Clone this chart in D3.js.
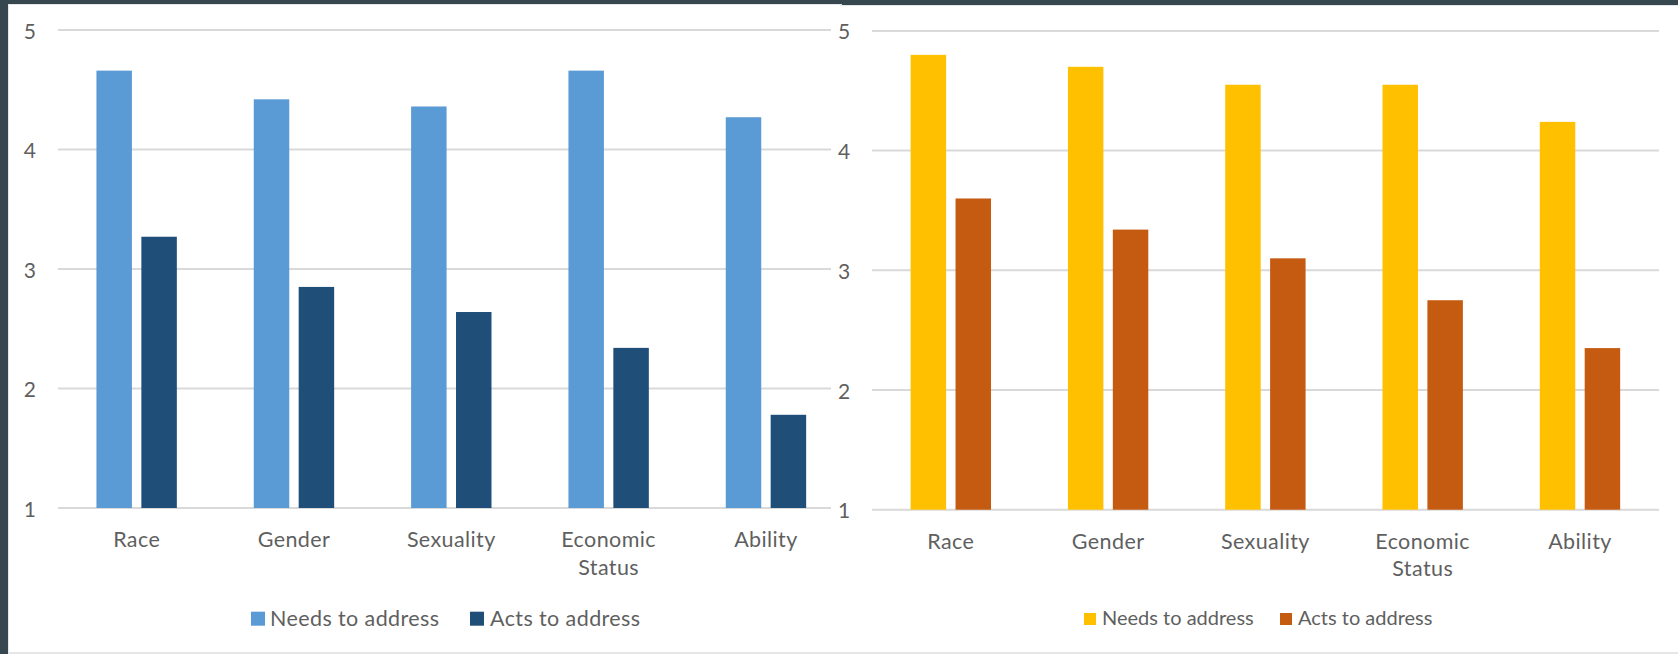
<!DOCTYPE html>
<html>
<head>
<meta charset="utf-8">
<script src="https://cdnjs.cloudflare.com/ajax/libs/d3/7.8.5/d3.min.js"></script>
<style>
  html, body { margin: 0; padding: 0; background: #37474f; }
  svg { display: block; }
  text { font-family: Lato, "Open Sans", sans-serif; fill: #5f5f5f; }
</style>
</head>
<body>
<svg id="chart" width="1678" height="654"></svg>
<script>
// ---- data ----
const categories = ["Race", "Gender", "Sexuality", "Economic Status", "Ability"];
const seriesNames = ["Needs to address", "Acts to address"];
const leftNeeds = [4.66, 4.42, 4.36, 4.66, 4.27];
const leftActs  = [3.27, 2.85, 2.64, 2.34, 1.78];
const rightNeeds = [4.80, 4.70, 4.55, 4.55, 4.24];
const rightActs  = [3.60, 3.34, 3.10, 2.75, 2.35];
const yTicks = [1, 2, 3, 4, 5];
const leftColors = ["#5b9bd5", "#1f4e79"];
const rightColors = ["#ffc000", "#c55a11"];

const svg = d3.select("#chart");

// background panels
svg.append("rect").attr("x", 0).attr("y", 0).attr("width", 1678).attr("height", 654).attr("fill", "#37474f");
svg.append("rect").attr("x", 8).attr("y", 4).attr("width", 834).attr("height", 650).attr("fill", "#e4e6e7");
svg.append("rect").attr("x", 9).attr("y", 5).attr("width", 833).attr("height", 647).attr("fill", "#ffffff");
svg.append("rect").attr("x", 840).attr("y", 5).attr("width", 838).attr("height", 649).attr("fill", "#e4e6e7");
svg.append("rect").attr("x", 840).attr("y", 6).attr("width", 838).attr("height", 646).attr("fill", "#ffffff");

svg.append("defs").append("clipPath").attr("id", "clipLeft")
  .append("rect").attr("x", 0).attr("y", 0).attr("width", 831).attr("height", 654);

function drawChart(cfg) {
  const g = svg.append("g");
  if (cfg.clip) g.attr("clip-path", "url(#" + cfg.clip + ")");

  const x0 = d3.scaleBand().domain(categories).range([cfg.x0, cfg.x1])
    .paddingInner(0.489).paddingOuter(0.245);
  const x1 = d3.scaleBand().domain(seriesNames).range([0, x0.bandwidth()])
    .paddingInner(0.21).paddingOuter(0);
  const y = d3.scaleLinear().domain([1, 5]).range([cfg.yBottom, cfg.yTop]);

  // gridlines
  g.append("g").selectAll("line").data(yTicks).join("line")
    .attr("x1", cfg.x0).attr("x2", cfg.gridEnd)
    .attr("y1", d => y(d)).attr("y2", d => y(d))
    .attr("stroke", "#d9d9d9").attr("stroke-width", 2);

  // y tick labels
  g.append("g").selectAll("text").data(yTicks).join("text")
    .attr("x", cfg.x0 - 22).attr("y", d => y(d))
    .attr("text-anchor", "end").attr("dominant-baseline", "central")
    .attr("font-size", 21).text(d => d);

  // bars
  const data = categories.map((c, i) => ({ cat: c, vals: [cfg.needs[i], cfg.acts[i]] }));
  const groups = g.append("g").selectAll("g").data(data).join("g")
    .attr("transform", d => `translate(${x0(d.cat)},0)`);
  groups.selectAll("rect").data(d => d.vals.map((v, k) => ({ s: seriesNames[k], v, k })))
    .join("rect")
    .attr("x", d => x1(d.s)).attr("width", x1.bandwidth())
    .attr("y", d => y(d.v)).attr("height", d => y(1) - y(d.v))
    .attr("fill", d => cfg.colors[d.k]);

  // category labels
  const lab = g.append("g").selectAll("text").data(categories).join("text")
    .attr("x", d => x0(d) + x0.bandwidth() / 2)
    .attr("y", cfg.yBottom + 39)
    .attr("text-anchor", "middle").attr("font-size", 21.5)
    .attr("letter-spacing", 0.4);
  lab.each(function(d) {
    const words = d.split(" ");
    const t = d3.select(this);
    words.forEach((w, i) => {
      t.append("tspan").attr("x", x0(d) + x0.bandwidth() / 2)
        .attr("dy", i === 0 ? 0 : 27.7).text(w);
    });
  });

  // legend
  const leg = g.append("g");
  seriesNames.forEach((s, k) => {
    leg.append("rect").attr("x", cfg.legend[k].sx).attr("y", cfg.legendY - cfg.sq)
      .attr("width", cfg.sq).attr("height", cfg.sq).attr("fill", cfg.colors[k]);
    leg.append("text").attr("x", cfg.legend[k].tx).attr("y", cfg.legendY)
      .attr("font-size", cfg.legendSize).attr("letter-spacing", cfg.legendSpacing).text(s);
  });
}

drawChart({
  x0: 57.9, x1: 844.7, gridEnd: 845, yTop: 30, yBottom: 508,
  needs: leftNeeds, acts: leftActs, colors: leftColors, clip: "clipLeft",
  legend: [{ sx: 251, tx: 270 }, { sx: 470, tx: 490 }], legendY: 625.7, sq: 14,
  legendSize: 21.5, legendSpacing: 0.4
});
drawChart({
  x0: 872.1, x1: 1658.7, gridEnd: 1659, yTop: 30.9, yBottom: 509.7,
  needs: rightNeeds, acts: rightActs, colors: rightColors, clip: null,
  legend: [{ sx: 1084, tx: 1102 }, { sx: 1280, tx: 1298 }], legendY: 625, sq: 12,
  legendSize: 20, legendSpacing: 0
});
</script>
</body>
</html>
